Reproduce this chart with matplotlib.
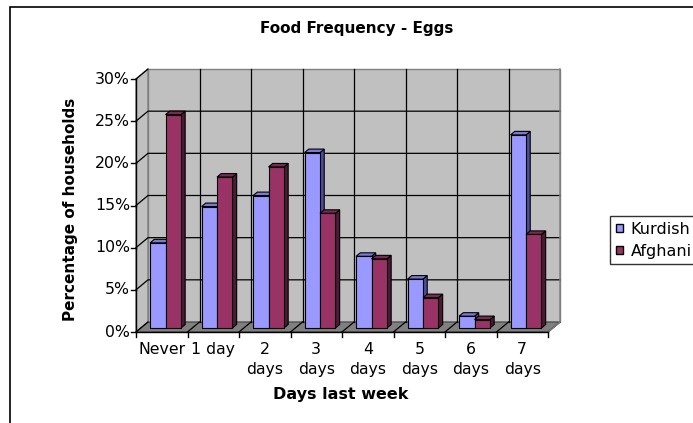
import matplotlib.pyplot as plt
from matplotlib.patches import Polygon, Rectangle, Patch

# Data (percent of households)
categories = ['Never', '1 day', '2\ndays', '3\ndays', '4\ndays', '5\ndays', '6\ndays', '7\ndays']
kurdish = [10.1, 14.4, 15.7, 20.8, 8.5, 5.8, 1.4, 22.9]
afghani = [25.3, 17.9, 19.1, 13.6, 8.2, 3.6, 1.0, 11.1]
y_ticks = [0, 5, 10, 15, 20, 25, 30]

# Excel-like colours: front, side, top
K_COLORS = ('#9999ff', '#4d4d99', '#7a7ad6')
A_COLORS = ('#993366', '#4d1a33', '#7a2952')
WALL = '#c0c0c0'
FLOOR = '#808080'

W, H = 693, 423
fig = plt.figure(figsize=(W / 100, H / 100), dpi=100)

# front plane of the 3d box, in pixels
x0, x1, ytop, ybot = 136, 548, 79, 332
ax = fig.add_axes([x0 / W, 1 - ybot / H, (x1 - x0) / W, (ybot - ytop) / H])
n = len(categories)
ymax = y_ticks[-1]
ax.set_xlim(0, n)
ax.set_ylim(0, ymax)
ax.axis('off')

# depth offset of the back wall in data units
DX = 12 / ((x1 - x0) / n)
DY = 10 / ((ybot - ytop) / ymax)


def P(x, y, d):
    return (x + d * DX, y + d * DY)


def poly(pts, fc, ec, lw=0.8, z=1):
    ax.add_patch(Polygon(pts, closed=True, facecolor=fc, edgecolor=ec,
                         linewidth=lw, zorder=z, clip_on=False))


# side wall, back wall and floor
poly([P(0, 0, 0), P(0, ymax, 0), P(0, ymax, 1), P(0, 0, 1)], WALL, '#808080', 1, 1)
poly([P(0, 0, 1), P(0, ymax, 1), P(n, ymax, 1), P(n, 0, 1)], WALL, '#808080', 1, 1)
poly([P(0, 0, 0), P(n, 0, 0), P(n, 0, 1), P(0, 0, 1)], FLOOR, '#404040', 0.8, 2)

# gridlines
for v in y_ticks[1:-1]:
    ax.plot(*zip(P(0, v, 0), P(0, v, 1), P(n, v, 1)), color='black', lw=0.9,
            zorder=2, clip_on=False)
ax.plot(*zip(P(0, ymax, 0), P(0, ymax, 1)), color='black', lw=0.9, zorder=2, clip_on=False)
for i in range(1, n):
    ax.plot(*zip(P(i, 0, 1), P(i, ymax, 1)), color='black', lw=0.9, zorder=2, clip_on=False)
for i in range(n + 1):
    ax.plot(*zip(P(i, 0, 0), P(i, 0, 1)), color='black', lw=0.9, zorder=3, clip_on=False)
ax.plot(*zip(P(n, 0, 0), P(n, 0, 1), P(n, ymax, 1)), color='#808080', lw=1, zorder=3,
        clip_on=False)

# front axes with ticks
ax.plot([0, 0], [0, ymax], color='black', lw=1, zorder=4, clip_on=False)
ax.plot([0, n], [0, 0], color='black', lw=1, zorder=4, clip_on=False)
tick_x = 5 / ((x1 - x0) / n)
tick_y = 5 / ((ybot - ytop) / ymax)
for v in y_ticks:
    ax.plot([-tick_x, 0], [v, v], color='black', lw=1, zorder=4, clip_on=False)
    ax.text(-tick_x - 0.02, v, f'{v}%', ha='right', va='center', fontsize=11.3)
for i in range(n + 1):
    ax.plot([i, i], [0, -tick_y], color='black', lw=1, zorder=4, clip_on=False)
for i, lab in enumerate(categories):
    ax.text(i + 0.5, -1.15, lab, ha='center', va='top', fontsize=11.3, linespacing=1.45)

# bars
d0, d1 = 0.4, 0.75
bw = 0.3
off = 0.18
z = 5
for i in range(n):
    for j, (vals, cols) in enumerate([(kurdish, K_COLORS), (afghani, A_COLORS)]):
        v = vals[i]
        xl = i + off + j * bw
        xr = xl + bw
        front, side, top = cols
        poly([P(xr, 0, d0), P(xr, v, d0), P(xr, v, d1), P(xr, 0, d1)], side, 'black', 0.8, z)
        poly([P(xl, v, d0), P(xr, v, d0), P(xr, v, d1), P(xl, v, d1)], top, 'black', 0.8, z)
        poly([P(xl, 0, d0), P(xr, 0, d0), P(xr, v, d0), P(xl, v, d0)], front, 'black', 0.8, z)
        z += 1

# titles and labels
fig.text(357 / W, 1 - 29 / H, 'Food Frequency - Eggs', ha='center', va='center',
         fontsize=11, fontweight='bold')
fig.text(71 / W, 1 - 209 / H, 'Percentage of households', ha='center', va='center',
         rotation=90, fontsize=11, fontweight='bold')
fig.text(341 / W, 1 - 394 / H, 'Days last week', ha='center', va='center',
         fontsize=11.5, fontweight='bold')

# legend
handles = [Patch(facecolor=K_COLORS[0], edgecolor='black', label='Kurdish'),
           Patch(facecolor=A_COLORS[0], edgecolor='black', label='Afghani')]
leg = fig.legend(handles=handles, loc='upper left', bbox_to_anchor=(610 / W, 1 - 216 / H),
                 fontsize=11.5, frameon=True, fancybox=False, borderpad=0.35,
                 handlelength=0.45, handleheight=0.45, handletextpad=0.5, labelspacing=0.45,
                 borderaxespad=0)
leg.get_frame().set_edgecolor('black')
leg.get_frame().set_linewidth(1)

# outer chart border
fig.patches.append(Rectangle((10 / W, -0.1), 1.0, 1 - 7 / H + 0.1, transform=fig.transFigure,
                             fill=False, edgecolor='black', linewidth=1.2))

fig.savefig('out.png', dpi=100)
